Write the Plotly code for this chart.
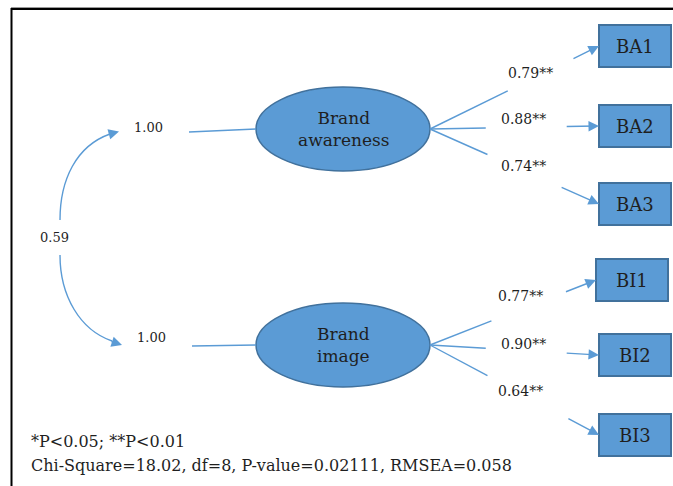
import plotly.graph_objects as go

# ---- model results -------------------------------------------------------
latent_factors = ["Brand<br>awareness", "Brand<br>image"]
factor_variances = [1.00, 1.00]
factor_correlation = 0.59
indicators = [["BA1", "BA2", "BA3"], ["BI1", "BI2", "BI3"]]
loadings = [[0.79, 0.88, 0.74], [0.77, 0.90, 0.64]]
loading_stars = [["**", "**", "**"], ["**", "**", "**"]]
significance_note = "*P&lt;0.05; **P&lt;0.01"
chi_square, dof, p_value, rmsea = 18.02, 8, "0.02111", 0.058

# ---- diagram layout (pixel space, y grows downward) ----------------------
W, H = 673, 486
factor_centers = [(343, 129), (343, 345)]
factor_rx, factor_ry = 87, 42
variance_label_pos = [(148, 127), (151, 337)]
variance_line = [((189, 132), (256, 129)), ((192, 346), (256, 345))]
indicator_centers = [[(635, 46), (635, 126), (635, 204)],
                     [(632, 280), (635, 355), (635, 435)]]
box_hw, box_hh = 36, 21
gap_frac = [[(0.46, 0.84), (0.33, 0.80), (0.34, 0.77)],
            [(0.37, 0.81), (0.33, 0.80), (0.34, 0.81)]]
loading_label_pos = [[(530, 73), (523, 119), (523, 166)],
                     [(520, 296), (523, 344), (520, 391)]]

BLUE = "#5B9BD5"
EDGE = "#41719C"
LINE = "#5B9BD5"
SERIF = "DejaVu Serif"

fig = go.Figure()
shapes, annotations = [], []


def arrow(tip, start, size=1.5):
    annotations.append(dict(
        x=tip[0], y=tip[1], ax=start[0], ay=start[1],
        xref="x", yref="y", axref="x", ayref="y", text="",
        showarrow=True, arrowhead=2, arrowsize=size, arrowwidth=1.4,
        arrowcolor=LINE, standoff=0, startstandoff=0))


def text(x, y, s, size, anchor="center"):
    annotations.append(dict(
        x=x, y=y, xref="x", yref="y", text=s, showarrow=False,
        xanchor=anchor, yanchor="middle",
        font=dict(family=SERIF, size=size, color="#1f1f1f")))


# outer frame (top and left edges)
shapes.append(dict(type="line", x0=11, y0=7.5, x1=W, y1=7.5,
                   line=dict(color="#9a9a9a", width=1)))
shapes.append(dict(type="line", x0=11, y0=9, x1=W, y1=9,
                   line=dict(color="#000000", width=2)))
shapes.append(dict(type="line", x0=11.5, y0=8, x1=11.5, y1=H,
                   line=dict(color="#000000", width=2)))

for f, (cx, cy) in enumerate(factor_centers):
    # latent factor ellipse
    shapes.append(dict(type="circle", x0=cx - factor_rx, x1=cx + factor_rx,
                       y0=cy - factor_ry, y1=cy + factor_ry,
                       fillcolor=BLUE, line=dict(color=EDGE, width=1.5)))
    text(cx, cy, latent_factors[f], 17)

    # variance label and connector
    vx, vy = variance_label_pos[f]
    text(vx, vy, f"{factor_variances[f]:.2f}", 13)
    (a, b) = variance_line[f]
    shapes.append(dict(type="line", x0=a[0], y0=a[1], x1=b[0], y1=b[1],
                       line=dict(color=LINE, width=1.4)))

    # loadings to observed indicators
    tip = (cx + factor_rx, cy)
    for i, name in enumerate(indicators[f]):
        bx, by = indicator_centers[f][i]
        end = (bx - box_hw, by)
        t1, t2 = gap_frac[f][i]
        p1 = (tip[0] + t1 * (end[0] - tip[0]), tip[1] + t1 * (end[1] - tip[1]))
        p2 = (tip[0] + t2 * (end[0] - tip[0]), tip[1] + t2 * (end[1] - tip[1]))
        shapes.append(dict(type="line", x0=tip[0], y0=tip[1], x1=p1[0], y1=p1[1],
                           line=dict(color=LINE, width=1.4)))
        arrow(end, p2)
        lx, ly = loading_label_pos[f][i]
        text(lx, ly, f"{loadings[f][i]:.2f}{loading_stars[f][i]}", 14)
        shapes.append(dict(type="rect", x0=bx - box_hw, x1=bx + box_hw,
                           y0=by - box_hh, y1=by + box_hh,
                           fillcolor=BLUE, line=dict(color=EDGE, width=2)))
        text(bx, by, name, 18)

# factor correlation (two curved arrows around the label)
shapes.append(dict(type="path", path="M60,220 C60,180 76,146 110,134",
                   line=dict(color=LINE, width=1.4)))
arrow((119, 131.5), (108, 134.5))
shapes.append(dict(type="path", path="M60,255 C60,296 80,330 112,341",
                   line=dict(color=LINE, width=1.4)))
arrow((122, 345), (110, 341))
text(54, 237, f"{factor_correlation:.2f}", 13)

# footnotes
text(29, 441, significance_note, 16, anchor="left")
text(29, 465, f"Chi-Square={chi_square:.2f}, df={dof}, P-value={p_value}, "
              f"RMSEA={rmsea:.3f}", 16, anchor="left")

fig.update_layout(
    width=W, height=H, margin=dict(l=0, r=0, t=0, b=0),
    paper_bgcolor="white", plot_bgcolor="white",
    xaxis=dict(range=[0, W], visible=False, fixedrange=True),
    yaxis=dict(range=[H, 0], visible=False, fixedrange=True),
    shapes=shapes, annotations=annotations, showlegend=False,
)
fig.write_html("out.html")
